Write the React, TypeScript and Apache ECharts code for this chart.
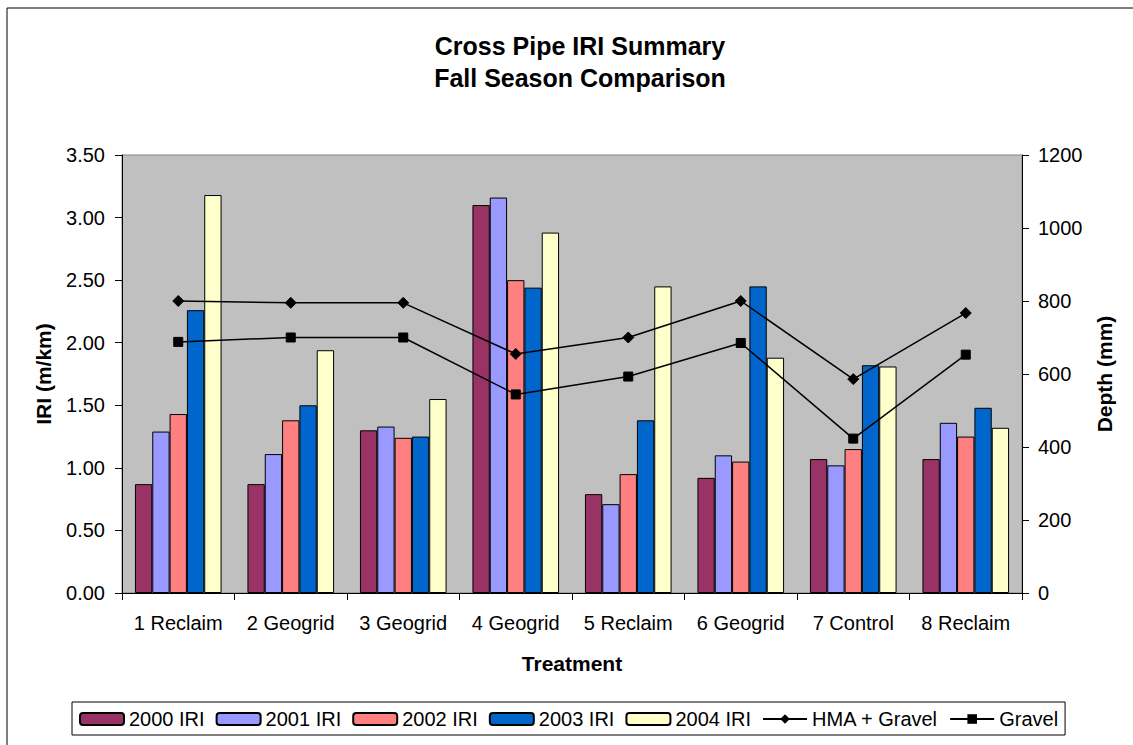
import React, { useEffect, useRef } from "react";
import * as echarts from "echarts";

const categories = ["1 Reclaim", "2 Geogrid", "3 Geogrid", "4 Geogrid", "5 Reclaim", "6 Geogrid", "7 Control", "8 Reclaim"];
const iri2000 = [0.87, 0.87, 1.30, 3.10, 0.79, 0.92, 1.07, 1.07];
const iri2001 = [1.29, 1.11, 1.33, 3.16, 0.71, 1.10, 1.02, 1.36];
const iri2002 = [1.43, 1.38, 1.24, 2.50, 0.95, 1.05, 1.15, 1.25];
const iri2003 = [2.26, 1.50, 1.25, 2.44, 1.38, 2.45, 1.82, 1.48];
const iri2004 = [3.18, 1.94, 1.55, 2.88, 2.45, 1.88, 1.81, 1.32];
const hmaGravel = [800, 795, 795, 655, 700, 800, 586, 767];
const gravel = [688, 700, 700, 544, 593, 685, 423, 653];

const barSeries = [
  { name: "2000 IRI", data: iri2000, color: "#993366" },
  { name: "2001 IRI", data: iri2001, color: "#9999FF" },
  { name: "2002 IRI", data: iri2002, color: "#FF8080" },
  { name: "2003 IRI", data: iri2003, color: "#0066CC" },
  { name: "2004 IRI", data: iri2004, color: "#FFFFCC" },
];

const FONT = "'Liberation Sans', Arial, sans-serif";

export default function App() {
  const ref = useRef<HTMLDivElement>(null);
  useEffect(() => {
    if (!ref.current) return;
    const chart = echarts.init(ref.current, undefined, { renderer: "svg" });
    const option: any = {
      animation: false,
      backgroundColor: "#ffffff",
      textStyle: { fontFamily: FONT, color: "#000" },
      title: {
        text: "Cross Pipe IRI Summary\nFall Season Comparison",
        left: 575,
        top: 25,
        textAlign: "center",
        textStyle: { fontFamily: FONT, fontSize: 25, fontWeight: "bold", color: "#000", lineHeight: 32 },
      },
      graphic: [
        {
          type: "rect",
          shape: { x: 7, y: 8, width: 1300, height: 900 },
          style: { fill: "none", stroke: "#000", lineWidth: 1 },
          silent: true,
        },
      ],
      legend: {
        left: 72,
        top: 702,
        padding: [7, 7, 6, 7],
        itemWidth: 44,
        itemHeight: 12,
        itemGap: 11,
        borderColor: "#000",
        borderWidth: 1,
        textStyle: { fontFamily: FONT, fontSize: 20, color: "#000" },
        data: ["2000 IRI", "2001 IRI", "2002 IRI", "2003 IRI", "2004 IRI", "HMA + Gravel", "Gravel"],
      },
      grid: {
        left: 122,
        right: 111,
        top: 155,
        bottom: 152,
        show: true,
        backgroundColor: "#C0C0C0",
        borderColor: "#808080",
        borderWidth: 1,
      },
      xAxis: {
        type: "category",
        data: categories,
        name: "Treatment",
        nameLocation: "middle",
        nameGap: 60,
        nameTextStyle: { fontFamily: FONT, fontSize: 21, fontWeight: "bold", color: "#000" },
        axisLine: { lineStyle: { color: "#000", width: 1 } },
        axisTick: { show: true, length: 7, lineStyle: { color: "#000" } },
        axisLabel: { interval: 0, margin: 20, fontFamily: FONT, fontSize: 20, color: "#000" },
        splitLine: { show: false },
      },
      yAxis: [
        {
          type: "value",
          min: 0,
          max: 3.5,
          interval: 0.5,
          name: "IRI (m/km)",
          nameLocation: "middle",
          nameRotate: 90,
          nameGap: 68,
          nameTextStyle: { fontFamily: FONT, fontSize: 21, fontWeight: "bold", color: "#000" },
          axisLine: { show: true, lineStyle: { color: "#000", width: 1 } },
          axisTick: { show: true, length: 7, lineStyle: { color: "#000" } },
          axisLabel: { margin: 17, fontFamily: FONT, fontSize: 20, color: "#000", formatter: (v: number) => v.toFixed(2) },
          splitLine: { show: false },
        },
        {
          type: "value",
          min: 0,
          max: 1200,
          interval: 200,
          position: "right",
          name: "Depth (mm)",
          nameLocation: "middle",
          nameRotate: 90,
          nameGap: 72,
          nameTextStyle: { fontFamily: FONT, fontSize: 21, fontWeight: "bold", color: "#000" },
          axisLine: { show: true, lineStyle: { color: "#000", width: 1 } },
          axisTick: { show: true, length: 7, lineStyle: { color: "#000" } },
          axisLabel: { margin: 16, fontFamily: FONT, fontSize: 20, color: "#000", formatter: (v: number) => String(v) },
          splitLine: { show: false },
        },
      ],
      series: [
        ...barSeries.map((b) => ({
          name: b.name,
          type: "bar",
          data: b.data,
          yAxisIndex: 0,
          barGap: "0%",
          barCategoryGap: "23%",
          itemStyle: { color: b.color, borderColor: "#000", borderWidth: 1 },
        })),
        {
          name: "HMA + Gravel",
          type: "line",
          yAxisIndex: 1,
          data: hmaGravel,
          symbol: "diamond",
          symbolSize: 11,
          z: 5,
          lineStyle: { color: "#000", width: 1.5 },
          itemStyle: { color: "#000", borderColor: "#000" },
        },
        {
          name: "Gravel",
          type: "line",
          yAxisIndex: 1,
          data: gravel,
          symbol: "rect",
          symbolSize: 9,
          z: 5,
          lineStyle: { color: "#000", width: 1.5 },
          itemStyle: { color: "#000", borderColor: "#000" },
        },
      ],
    };
    chart.setOption(option);
    return () => chart.dispose();
  }, []);
  return (
    <div
      ref={ref}
      style={{ position: "absolute", left: 0, top: 0, width: 1133, height: 745 }}
    />
  );
}
